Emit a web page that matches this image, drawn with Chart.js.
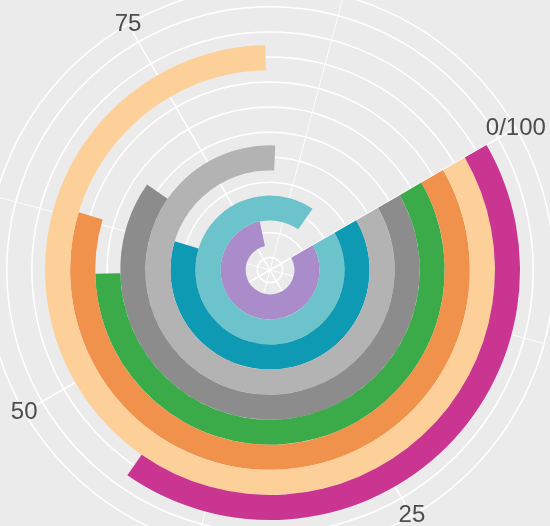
<!DOCTYPE html>
<html>
<head>
<meta charset="utf-8">
<script src="https://cdn.jsdelivr.net/npm/chart.js@4"></script>
<style>
  html, body { margin: 0; padding: 0; background: #ebebeb; }
  #wrap { width: 550px; height: 526px; }
</style>
</head>
<body>
<div id="wrap"><canvas id="radialBars" width="550" height="526"></canvas></div>
<script>
// ring values, listed from the inner ring to the outer ring (percent of the full turn)
const ringNames = ["r1", "r2", "r3", "r4", "r5", "r6", "r7", "r8", "r9"];
const ringValues = [80, 93, 63, 84, 68, 58, 63, 83, 43];
const ringColors = ["#a98cc9", "#6cc3cb", "#0f9ab3", "#b3b3b3", "#8c8c8c", "#3aab48", "#f0924b", "#fdd09a", "#cb3592"];

const scaleMax = 100;
const majorTicks = [0, 25, 50, 75];
const tickLabels = ["0/100", "25", "50", "75"];
const minorTicks = [12.5, 37.5, 62.5, 87.5];

// doughnut datasets go outer -> inner, so reverse
const datasets = ringValues.map((v, i) => ({
  label: ringNames[i],
  data: [v, scaleMax - v],
  backgroundColor: [ringColors[i], "rgba(0,0,0,0)"],
  borderWidth: 0
})).reverse();

// polar grid underneath the bars, ggplot style
const polarGrid = {
  id: "polarGrid",
  beforeDatasetsDraw(chart) {
    const n = chart.data.datasets.length;
    const outer = chart.getDatasetMeta(0).controller.outerRadius;
    const inner = chart.getDatasetMeta(n - 1).controller.innerRadius;
    const arc = chart.getDatasetMeta(0).data[0];
    const cx = arc.x, cy = arc.y;
    const step = (outer - inner) / n;
    const edge = outer + step * 1.35;
    const start = (chart.options.rotation - 90) * Math.PI / 180;
    const ang = v => start + v / scaleMax * Math.PI * 2;
    const ctx = chart.ctx;
    ctx.save();
    ctx.strokeStyle = "#ffffff";

    // circles at every ring centre, plus one past the last ring and the outer edge
    ctx.lineWidth = 1.5;
    for (let r = step / 2; r < outer + step; r += step) {
      ctx.beginPath();
      ctx.arc(cx, cy, r, 0, Math.PI * 2);
      ctx.stroke();
    }
    ctx.beginPath();
    ctx.arc(cx, cy, edge, 0, Math.PI * 2);
    ctx.stroke();

    // spokes
    const spoke = (v, w) => {
      ctx.lineWidth = w;
      ctx.beginPath();
      ctx.moveTo(cx, cy);
      ctx.lineTo(cx + Math.cos(ang(v)) * edge, cy + Math.sin(ang(v)) * edge);
      ctx.stroke();
    };
    minorTicks.forEach(v => spoke(v, 0.9));
    majorTicks.forEach(v => spoke(v, 1.5));
    ctx.restore();
  },
  afterDatasetsDraw(chart) {
    const n = chart.data.datasets.length;
    const outer = chart.getDatasetMeta(0).controller.outerRadius;
    const inner = chart.getDatasetMeta(n - 1).controller.innerRadius;
    const arc = chart.getDatasetMeta(0).data[0];
    const step = (outer - inner) / n;
    const edge = outer + step * 1.35;
    const start = (chart.options.rotation - 90) * Math.PI / 180;
    const ctx = chart.ctx;
    ctx.save();
    ctx.font = "24px 'Liberation Sans', Arial, sans-serif";
    ctx.fillStyle = "#4d4d4d";
    ctx.textAlign = "center";
    ctx.textBaseline = "middle";
    majorTicks.forEach((v, i) => {
      const a = start + v / scaleMax * Math.PI * 2;
      ctx.fillText(tickLabels[i], arc.x + Math.cos(a) * edge, arc.y + Math.sin(a) * edge);
    });
    ctx.restore();
  }
};

new Chart(document.getElementById("radialBars"), {
  type: "doughnut",
  data: { labels: ["value", "rest"], datasets },
  options: {
    responsive: false,
    animation: false,
    rotation: 60,
    circumference: 360,
    radius: 250,
    cutout: 25,
    layout: { padding: { left: 0, right: 10, top: 14, bottom: 0 } },
    events: [],
    plugins: {
      legend: { display: false },
      tooltip: { enabled: false }
    }
  },
  plugins: [polarGrid]
});
</script>
</body>
</html>
